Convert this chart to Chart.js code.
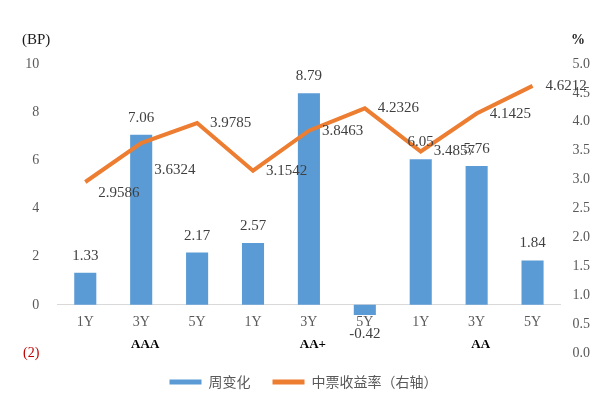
<!DOCTYPE html>
<html><head><meta charset="utf-8">
<script src="https://cdn.jsdelivr.net/npm/chart.js@4/dist/chart.umd.min.js"></script>
<style>html,body{margin:0;padding:0;background:#fff;}</style>
</head><body>
<canvas id="c" width="612" height="399"></canvas>
<script>
const groups = ['AAA', 'AA+', 'AA'];
const tenors = ['1Y', '3Y', '5Y'];
const categories = groups.flatMap(() => tenors);
const weeklyChange = [1.33, 7.06, 2.17, 2.57, 8.79, -0.42, 6.05, 5.76, 1.84];
const yieldRate = [2.9586, 3.6324, 3.9785, 3.1542, 3.8463, 4.2326, 3.4857, 4.1425, 4.6212];
const seriesNames = ['周变化', '中票收益率（右轴）'];
const leftAxisTitle = '(BP)';
const rightAxisTitle = '%';

const SERIF = '"Liberation Serif", "DejaVu Serif", serif';
const CJK = '"Noto Sans CJK SC", "Noto Sans", sans-serif';

const labelPlugin = {
  id: 'customLabels',
  afterDatasetsDraw(chart, args, opts) {
    const ctx = chart.ctx;
    ctx.save();
    ctx.font = '15px ' + SERIF;
    ctx.fillStyle = '#404040';
    ctx.textBaseline = 'middle';
    ctx.textAlign = 'center';
    chart.getDatasetMeta(0).data.forEach((el, i) => {
      const v = weeklyChange[i];
      const y = v >= 0 ? el.y - 17 : el.y + 19;
      ctx.fillText(v.toFixed(2), el.x, y);
    });
    ctx.textAlign = 'left';
    chart.getDatasetMeta(1).data.forEach((el, i) => {
      const dy = (opts.lineLabelDy && opts.lineLabelDy[i]) || 0;
      ctx.fillText(yieldRate[i].toFixed(4), el.x + 13, el.y + dy);
    });
    // group labels
    const xs = chart.scales.x;
    ctx.font = 'bold 13px ' + SERIF;
    ctx.fillStyle = '#000000';
    ctx.textAlign = 'center';
    groups.forEach((g, gi) => {
      const mid = gi * tenors.length + Math.floor(tenors.length / 2);
      ctx.fillText(g, xs.getPixelForValue(mid) + 4, opts.groupY);
    });
    // axis unit titles
    ctx.font = '15px ' + SERIF;
    ctx.fillStyle = '#1a1a1a';
    ctx.textAlign = 'left';
    ctx.fillText(leftAxisTitle, 22, 40);
    ctx.font = 'bold 14px ' + SERIF;
    ctx.fillText(rightAxisTitle, 571, 40);
    ctx.restore();
  }
};

new Chart(document.getElementById('c'), {
  type: 'bar',
  data: {
    labels: categories,
    datasets: [
      {
        type: 'bar',
        label: seriesNames[0],
        data: weeklyChange,
        backgroundColor: '#5B9BD5',
        borderWidth: 0,
        yAxisID: 'y',
        barPercentage: 0.395,
        categoryPercentage: 1,
        order: 1
      },
      {
        type: 'line',
        label: seriesNames[1],
        data: yieldRate,
        borderColor: '#ED7D31',
        backgroundColor: '#ED7D31',
        borderWidth: 4,
        pointRadius: 0,
        tension: 0,
        yAxisID: 'y1',
        order: 0
      }
    ]
  },
  options: {
    responsive: false,
    animation: false,
    devicePixelRatio: 1,
    layout: { padding: { top: 64, left: 5, right: 10, bottom: 0 } },
    scales: {
      x: {
        type: 'category',
        position: { y: 0 },
        grid: { display: false, drawTicks: false },
        border: { display: true, color: '#d9d9d9', width: 1 },
        ticks: { color: '#595959', font: { family: SERIF, size: 14 }, padding: 9, maxRotation: 0, autoSkip: false }
      },
      y: {
        position: 'left',
        min: -2, max: 10,
        grid: { display: false, drawTicks: false },
        border: { display: false },
        ticks: {
          stepSize: 2,
          padding: 18,
          font: { family: SERIF, size: 14 },
          color: (c) => (c.tick && c.tick.value < 0) ? '#C00000' : '#595959',
          callback: (v) => v < 0 ? '(' + Math.abs(v) + ')' : String(v)
        }
      },
      y1: {
        position: 'right',
        min: 0, max: 5,
        grid: { display: false, drawTicks: false },
        border: { display: false },
        ticks: {
          stepSize: 0.5,
          padding: 12,
          font: { family: SERIF, size: 14 },
          color: '#595959',
          callback: (v) => Number(v).toFixed(1)
        }
      }
    },
    plugins: {
      tooltip: { enabled: false },
      legend: {
        position: 'bottom',
        labels: {
          boxWidth: 32,
          boxHeight: 5,
          padding: 22,
          color: '#595959',
          font: { family: CJK, size: 14 },
          sort: (a, b) => a.datasetIndex - b.datasetIndex,
          generateLabels: (chart) => Chart.defaults.plugins.legend.labels.generateLabels(chart).map(l => Object.assign(l, { lineWidth: 0 }))
        }
      },
      customLabels: {
        lineLabelDy: [11, 27, 0, 0, 0, 0, 0, 0, 0],
        groupY: 345
      }
    }
  },
  plugins: [labelPlugin]
});
</script>
</body></html>
